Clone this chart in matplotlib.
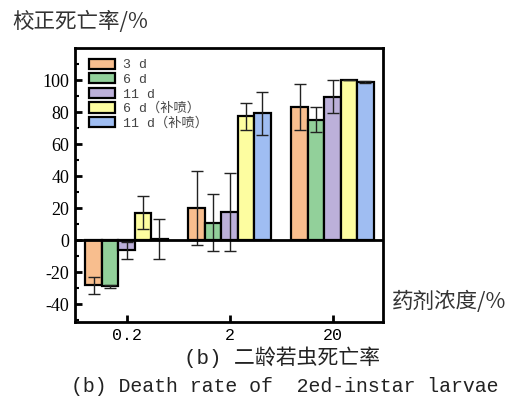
import matplotlib.pyplot as plt
import numpy as np

plt.rcParams['font.family'] = ['Liberation Mono', 'Noto Sans CJK SC']

concentrations = ['0.2', '2', '20']
series = ['3 d', '6 d', '11 d', '6 d（补喷）', '11 d（补喷）']
values = [
    [-28.1, 20.2, 83.4],
    [-28.7, 10.9, 75.3],
    [-6.2, 17.7, 89.6],
    [17.3, 77.5, 100.0],
    [0.9, 79.2, 98.8],
]
errors = [
    [5.2, 23.1, 14.3],
    [0.8, 17.7, 7.7],
    [5.2, 24.5, 10.4],
    [10.1, 8.4, 0.0],
    [12.6, 13.3, 0.8],
]
colors = ['#F8BE8E', '#92D09A', '#BCB0DA', '#FDFDA0', '#9FBDF2']

fig = plt.figure(figsize=(5.13, 4.07), dpi=100)
ax = fig.add_axes([75 / 513, 1 - 322 / 407, 308 / 513, 274 / 407])

x = np.arange(len(concentrations))
w = 0.16
for i in range(len(series)):
    ax.bar(x + (i - 2) * w, values[i], w, yerr=errors[i], color=colors[i],
           edgecolor='black', linewidth=1.6, label=series[i],
           error_kw=dict(ecolor='#222222', elinewidth=1.0, capsize=4, capthick=1.0))

ax.axhline(0, color='black', linewidth=2, zorder=5)
ax.set_xlim(-0.5, 2.49)
ax.set_ylim(-51, 120)
ax.set_xticks(x)
ax.set_xticklabels(concentrations, fontsize=12, family=['Liberation Mono'])
ax.set_yticks(np.arange(-40, 101, 20))
ax.set_yticklabels([str(v) for v in range(-40, 101, 20)], fontsize=13,
                   family=['Liberation Serif'])
ax.set_yticks(np.arange(-50, 111, 10), minor=True)
ax.tick_params(axis='both', which='major', direction='in', width=2, length=5, pad=4)
ax.tick_params(axis='y', which='minor', direction='in', width=1.5, length=3)
ax.tick_params(axis='x', which='minor', bottom=False)
for s in ax.spines.values():
    s.set_linewidth(2)

leg = ax.legend(loc='upper left', bbox_to_anchor=(0.02, 0.99), frameon=False,
                fontsize=9.5, handlelength=2.0, handleheight=0.8,
                handletextpad=0.6, labelspacing=0.15, borderaxespad=0.2)
for t in leg.get_texts():
    t.set_color('#444444')

fig.text(12 / 513, 1 - 22 / 407, '校正死亡率/%', fontsize=15.5, style='italic',
         family=['Noto Sans CJK SC'], color='#333333', va='center', ha='left')
fig.text(392 / 513, 1 - 302 / 407, '药剂浓度/%', fontsize=15.5, style='italic',
         family=['Noto Sans CJK SC'], color='#333333', va='center', ha='left')
fig.text(282 / 513, 1 - 357 / 407, '(b) 二龄若虫死亡率', fontsize=15,
         ha='center', va='center', color='#222222')
fig.text(285 / 513, 1 - 387 / 407, '(b) Death rate of  2ed-instar larvae',
         fontsize=14.3, ha='center', va='center', color='#222222')

fig.savefig('out.png', dpi=100)
